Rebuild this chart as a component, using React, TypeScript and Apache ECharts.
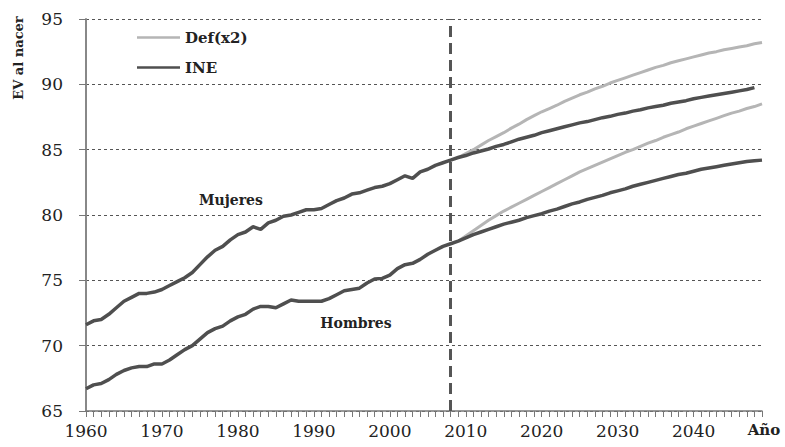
import React, { useEffect, useRef } from "react";
import * as echarts from "echarts";

// Categories: years 1960..2049
const years: string[] = Array.from({ length: 90 }, (_, i) => String(1960 + i));

// Observed life expectancy at birth 1960-2008
const mujeresObs = [
  71.6, 71.9, 72.0, 72.4, 72.9, 73.4, 73.7, 74.0, 74.0, 74.1,
  74.3, 74.6, 74.9, 75.2, 75.6, 76.2, 76.8, 77.3, 77.6, 78.1,
  78.5, 78.7, 79.1, 78.9, 79.4, 79.6, 79.9, 80.0, 80.2, 80.4,
  80.4, 80.5, 80.8, 81.1, 81.3, 81.6, 81.7, 81.9, 82.1, 82.2,
  82.4, 82.7, 83.0, 82.8, 83.3, 83.5, 83.8, 84.0, 84.2,
];
const hombresObs = [
  66.7, 67.0, 67.1, 67.4, 67.8, 68.1, 68.3, 68.4, 68.4, 68.6,
  68.6, 68.9, 69.3, 69.7, 70.0, 70.5, 71.0, 71.3, 71.5, 71.9,
  72.2, 72.4, 72.8, 73.0, 73.0, 72.9, 73.2, 73.5, 73.4, 73.4,
  73.4, 73.4, 73.6, 73.9, 74.2, 74.3, 74.4, 74.8, 75.1, 75.15,
  75.4, 75.9, 76.2, 76.3, 76.6, 77.0, 77.3, 77.6, 77.8,
];

// Projections 2009-2049
const mujeresINE = [
  84.4, 84.55, 84.75, 84.9, 85.05, 85.25, 85.4, 85.6, 85.8, 85.95,
  86.1, 86.3, 86.45, 86.6, 86.75, 86.9, 87.05, 87.15, 87.3, 87.45,
  87.55, 87.7, 87.8, 87.95, 88.05, 88.2, 88.3, 88.4, 88.55, 88.65,
  88.75, 88.9, 89.0, 89.1, 89.2, 89.3, 89.4, 89.5, 89.6, 89.75, null,
];
const hombresINE = [
  78.0, 78.25, 78.5, 78.7, 78.9, 79.1, 79.3, 79.45, 79.6, 79.8,
  79.95, 80.1, 80.3, 80.45, 80.65, 80.85, 81.0, 81.2, 81.35, 81.5,
  81.7, 81.85, 82.0, 82.2, 82.35, 82.5, 82.65, 82.8, 82.95, 83.1,
  83.2, 83.35, 83.5, 83.6, 83.7, 83.8, 83.9, 84.0, 84.1, 84.15, 84.2,
];
const mujeresDef = [
  84.4, 84.7, 85.0, 85.35, 85.7, 86.0, 86.3, 86.65, 86.95, 87.3,
  87.6, 87.9, 88.15, 88.4, 88.7, 88.95, 89.2, 89.4, 89.65, 89.85,
  90.1, 90.3, 90.5, 90.7, 90.9, 91.1, 91.3, 91.45, 91.65, 91.8,
  91.95, 92.1, 92.25, 92.4, 92.5, 92.65, 92.75, 92.85, 92.95, 93.1, 93.2,
];
const hombresDef = [
  78.0, 78.4, 78.8, 79.2, 79.6, 79.95, 80.3, 80.6, 80.9, 81.2,
  81.5, 81.8, 82.1, 82.4, 82.7, 83.0, 83.3, 83.55, 83.8, 84.05,
  84.3, 84.55, 84.8, 85.0, 85.25, 85.5, 85.7, 85.95, 86.15, 86.35,
  86.6, 86.8, 87.0, 87.2, 87.4, 87.6, 87.8, 87.95, 88.15, 88.3, 88.5,
];

const legendNames = ["Def(x2)", "INE"];
const dividerYear = "2008";

const DARK = "#4f4f4f";
const LIGHT = "#b5b5b5";
const FONT = "DejaVu Serif";

export default function App() {
  const ref = useRef<HTMLDivElement>(null);

  useEffect(() => {
    if (!ref.current) return;
    const chart = echarts.init(ref.current, null, { renderer: "svg" });
    const pad = new Array(mujeresObs.length).fill(null);

    const option: any = {
      animation: false,
      backgroundColor: "#ffffff",
      grid: { left: 86, right: 23, top: 19, bottom: 36, containLabel: false },
      legend: {
        data: legendNames,
        orient: "vertical",
        left: 132,
        top: 25,
        icon: "rect",
        itemWidth: 43,
        itemHeight: 2.5,
        itemGap: 15,
        textStyle: { fontFamily: FONT, fontWeight: "bold", fontSize: 15, color: "#222" },
      },
      xAxis: {
        type: "category",
        data: years,
        boundaryGap: false,
        axisLine: { show: true, lineStyle: { color: "#777", width: 1.5 } },
        axisTick: { show: true, interval: 0, length: 6, lineStyle: { color: "#777" } },
        axisLabel: {
          interval: (i: number) => i % 10 === 0,
          margin: 11,
          fontFamily: FONT,
          fontSize: 17,
          color: "#222",
        },
        splitLine: { show: false },
      },
      yAxis: {
        type: "value",
        min: 65,
        max: 95,
        interval: 5,
        axisLine: { show: true, lineStyle: { color: "#888", width: 2 } },
        axisTick: { show: true, length: 7, lineStyle: { color: "#777" } },
        axisLabel: { margin: 23, fontFamily: FONT, fontSize: 17, color: "#222" },
        splitLine: { show: true, lineStyle: { color: "#555", width: 1, type: [3, 3] } },
      },
      series: [
        {
          name: "Def(x2)",
          type: "line",
          data: [...pad, ...mujeresDef],
          symbol: "none",
          lineStyle: { color: LIGHT, width: 3 },
          itemStyle: { color: LIGHT },
        },
        {
          name: "Def(x2)",
          type: "line",
          data: [...pad, ...hombresDef],
          symbol: "none",
          lineStyle: { color: LIGHT, width: 3 },
          itemStyle: { color: LIGHT },
        },
        {
          name: "INE",
          type: "line",
          data: [...mujeresObs, ...mujeresINE],
          symbol: "none",
          lineStyle: { color: DARK, width: 3.5 },
          itemStyle: { color: DARK },
          markLine: {
            silent: true,
            symbol: ["none", "none"],
            label: { show: false },
            lineStyle: { color: "#555", width: 3, type: [11, 6] },
            data: [{ xAxis: dividerYear }],
          },
        },
        {
          name: "INE",
          type: "line",
          data: [...hombresObs, ...hombresINE],
          symbol: "none",
          lineStyle: { color: DARK, width: 3.5 },
          itemStyle: { color: DARK },
        },
      ],
      graphic: [
        {
          type: "text",
          x: 18,
          y: 58,
          rotation: Math.PI / 2,
          style: {
            text: "EV al nacer",
            fontFamily: FONT,
            fontWeight: "bold",
            fontSize: 13,
            fill: "#222",
            textAlign: "center",
            textVerticalAlign: "middle",
          },
        },
        {
          type: "text",
          x: 231,
          y: 200,
          style: {
            text: "Mujeres",
            fontFamily: FONT,
            fontWeight: "bold",
            fontSize: 14,
            fill: "#222",
            textAlign: "center",
            textVerticalAlign: "middle",
          },
        },
        {
          type: "text",
          x: 356,
          y: 323,
          style: {
            text: "Hombres",
            fontFamily: FONT,
            fontWeight: "bold",
            fontSize: 14,
            fill: "#222",
            textAlign: "center",
            textVerticalAlign: "middle",
          },
        },
        {
          type: "text",
          x: 764,
          y: 430,
          style: {
            text: "Año",
            fontFamily: FONT,
            fontWeight: "bold",
            fontSize: 15,
            fill: "#222",
            textAlign: "center",
            textVerticalAlign: "middle",
          },
        },
      ],
    };

    chart.setOption(option);
    return () => chart.dispose();
  }, []);

  return (
    <div
      ref={ref}
      style={{ position: "fixed", left: 0, top: 0, width: 785, height: 447, background: "#fff" }}
    />
  );
}
